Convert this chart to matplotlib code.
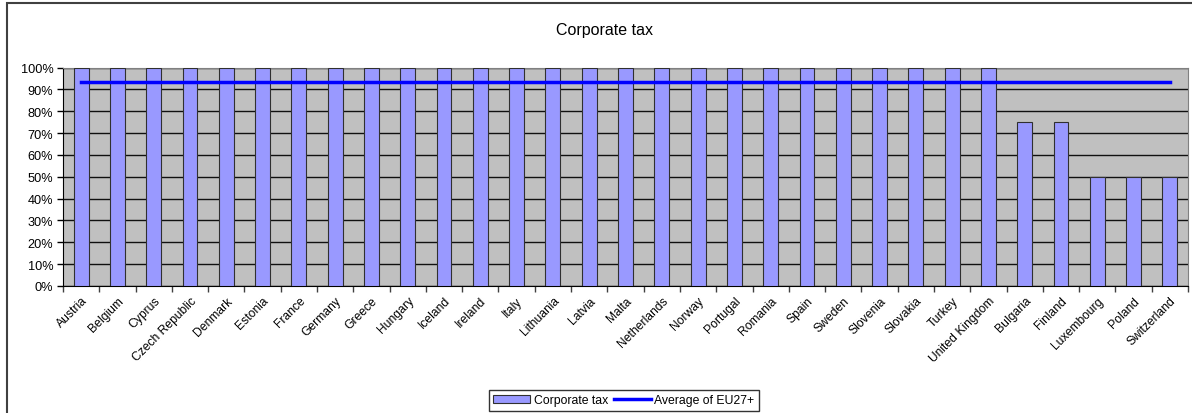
import matplotlib
matplotlib.use("Agg")
import matplotlib.pyplot as plt
from matplotlib.patches import Rectangle
from matplotlib.ticker import FixedLocator, PercentFormatter
import numpy as np

countries = ["Austria", "Belgium", "Cyprus", "Czech Republic", "Denmark", "Estonia",
             "France", "Germany", "Greece", "Hungary", "Iceland", "Ireland", "Italy",
             "Lithuania", "Latvia", "Malta", "Netherlands", "Norway", "Portugal",
             "Romania", "Spain", "Sweden", "Slovenia", "Slovakia", "Turkey",
             "United Kingdom", "Bulgaria", "Finland", "Luxembourg", "Poland",
             "Switzerland"]
corporate_tax = [1.0] * 26 + [0.75, 0.75, 0.5, 0.5, 0.5]
eu_average = 0.935

plt.rcParams['font.family'] = ['Liberation Sans', 'DejaVu Sans']

fig = plt.figure(figsize=(11.92, 4.14), dpi=100)
ax = fig.add_axes([63 / 1192, 1 - 287 / 414, (1188 - 63) / 1192, (287 - 68.5) / 414])

x = np.arange(len(countries))
ax.set_facecolor('#c0c0c0')
bars = ax.bar(x, corporate_tax, width=0.41, color='#9999ff', edgecolor='#303030',
              linewidth=0.8, label='Corporate tax', zorder=3)
avg_line, = ax.plot(x, [eu_average] * len(x), color='#0000ff', lw=2.5,
                    label='Average of EU27+', zorder=4)

ax.set_xlim(-0.5, len(countries) - 0.5)
ax.set_ylim(0, 1)
ax.set_yticks(np.arange(0, 1.01, 0.1))
ax.yaxis.set_major_formatter(PercentFormatter(1.0, decimals=0))
ax.set_xticks(x)
ax.set_xticklabels(countries, rotation=45, ha='right', rotation_mode='anchor')
ax.xaxis.set_minor_locator(FixedLocator(np.arange(-0.5, len(countries), 1)))
ax.tick_params(axis='x', which='major', length=0, pad=6, labelsize=8.7)
ax.tick_params(axis='x', which='minor', length=4, width=1, direction='out', color='#404040')
ax.tick_params(axis='y', length=4, width=1, labelsize=9.2, pad=3)
ax.grid(axis='y', which='major', color='#101010', lw=1, zorder=1)
ax.set_axisbelow(True)
for s in ax.spines.values():
    s.set_color('#808080')
ax.spines['left'].set_color('black')
ax.spines['bottom'].set_color('black')

fig.text(604 / 1192, 1 - 30 / 414, 'Corporate tax', ha='center', va='center', fontsize=11.5)

leg = fig.legend([bars, avg_line], ['Corporate tax', 'Average of EU27+'],
                 loc='upper center', bbox_to_anchor=(624 / 1192, 1 - 391 / 414),
                 ncol=2, fontsize=8.8, frameon=True, fancybox=False,
                 handlelength=3, handletextpad=0.3, columnspacing=0.5,
                 borderpad=0.35, borderaxespad=0)
leg.get_frame().set_edgecolor('black')
leg.get_frame().set_linewidth(1)

fig.patches.append(Rectangle((7 / 1192, -0.2), 1.2, 1.2 - 4 / 414, transform=fig.transFigure,
                             fill=False, edgecolor='#404040', lw=1.5))

fig.savefig('out.png', dpi=100)
